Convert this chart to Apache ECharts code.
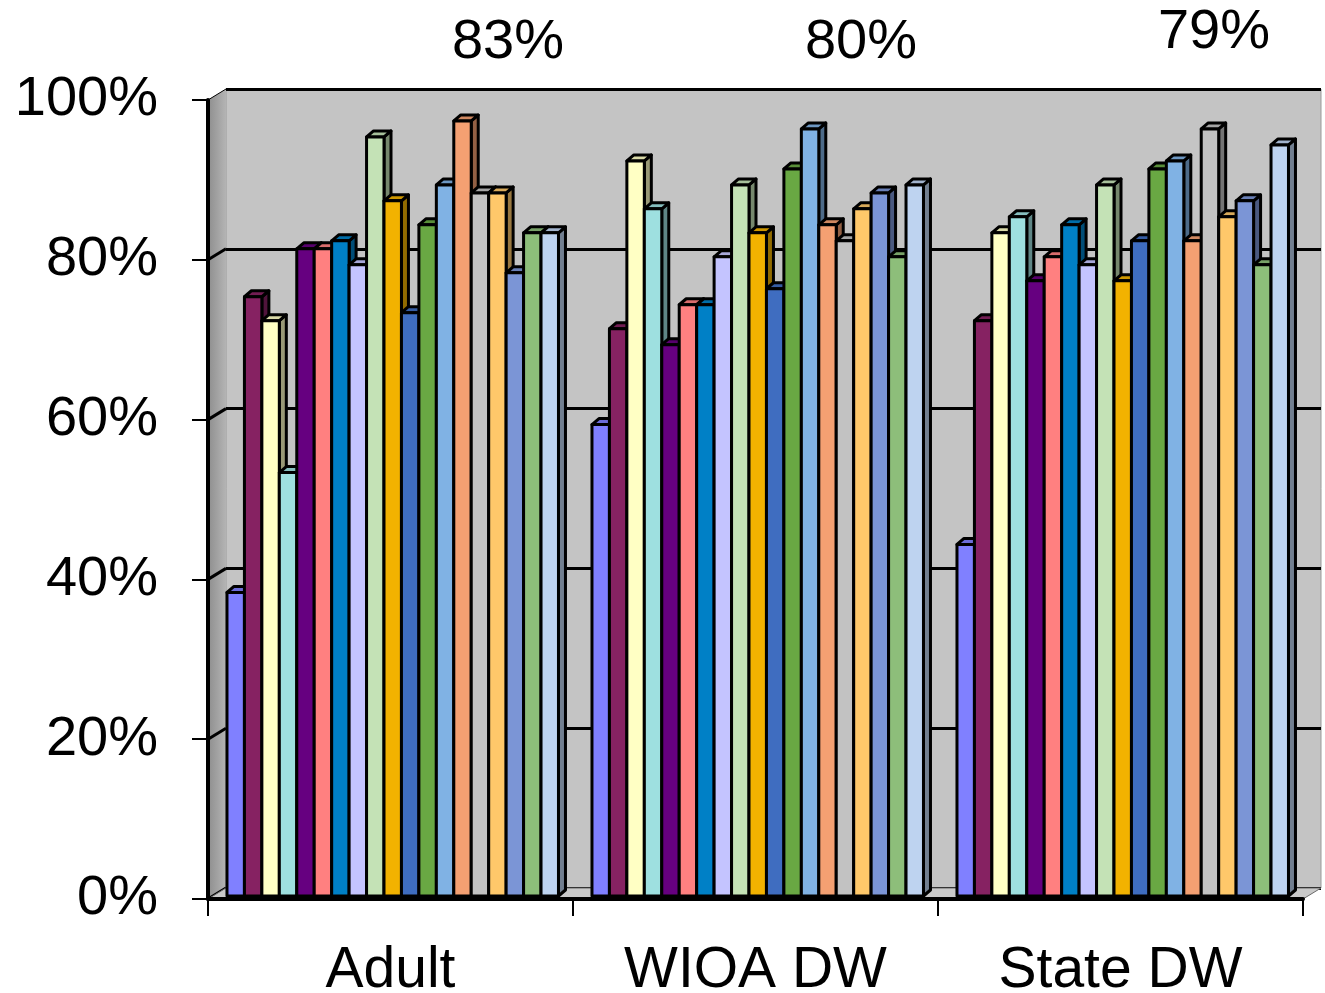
<!DOCTYPE html>
<html>
<head>
<meta charset="utf-8">
<script src="https://cdn.jsdelivr.net/npm/echarts@6/dist/echarts.min.js"></script>
<style>
  html, body { margin: 0; padding: 0; background: #ffffff; }
  #chart { width: 1325px; height: 993px; }
</style>
</head>
<body>
<div id="chart"></div>
<script>
// ---- data ----
const categories = ['Adult', 'WIOA DW', 'State DW'];
const groupTotals = ['83%', '80%', '79%'];
const yTicks = [0, 20, 40, 60, 80, 100];

// one value per coloured column, left to right inside each group
const adultValues   = [38, 75, 72, 53, 81, 81, 82, 79, 95, 87, 73, 84, 89, 97, 88, 88, 78, 83, 83];
const wioaDwValues  = [59, 71, 92, 86, 69, 74, 74, 80, 89, 83, 76, 91, 96, 84, 82, 86, 88, 80, 89];
const stateDwValues = [44, 72, 83, 85, 77, 80, 84, 79, 89, 77, 82, 91, 92, 82, 96, 85, 87, 79, 94];

const barColors = [
  '#8080FF', '#862262', '#FFFFC4', '#9EE0E0', '#660080', '#FF8080', '#0080C6',
  '#C4C4FF', '#C4E2B6', '#F2B200', '#3F6DC0', '#69A843', '#80B2E4', '#F4A072',
  '#C2C2C2', '#FFC86A', '#7B95D6', '#8DBE7A', '#BED3F0'
];

// ---- layout / styling ----
const FONT = "'Liberation Sans', Arial, sans-serif";
const FRONT = { left: 208, right: 22, top: 100, bottom: 94 };   // front axis frame
const WALL_DEPTH = { dx: 18, dy: 11 };                          // back wall offset
const COL_DEPTH = { dx: 7, dy: 6 };                             // depth of each column
const COL_SETBACK = 3;                                          // columns stand behind the front axis
const BAR_FRACTION = 0.0478;                                    // column width / category band
const LEAD_FRACTION = 0.052;                                    // gap before first column / band
const totalLabelPos = [[508, 43], [861, 43], [1214, 33]];

const groupValues = [adultValues, wioaDwValues, stateDwValues];

function shade(hex, f) {
  const n = parseInt(hex.slice(1), 16);
  let r = (n >> 16) & 255, g = (n >> 8) & 255, b = n & 255;
  if (f < 0) { r *= 1 + f; g *= 1 + f; b *= 1 + f; }
  else { r += (255 - r) * f; g += (255 - g) * f; b += (255 - b) * f; }
  return 'rgb(' + [r, g, b].map(v => Math.round(v)).join(',') + ')';
}

function makeRenderer(i) {
  return function (params, api) {
    const cat = api.value(0);
    const val = api.value(1);
    const band = api.size([1, 0])[0];
    const base = api.coord([cat, 0]);
    const top = api.coord([cat, val]);
    const w = band * BAR_FRACTION;
    const x0 = base[0] - band / 2 + band * LEAD_FRACTION + i * w;
    const x1 = x0 + w;
    const yb = base[1] - COL_SETBACK;
    const yt = top[1] - COL_SETBACK;
    const dx = COL_DEPTH.dx, dy = COL_DEPTH.dy;
    const c = barColors[i];
    const stroke = { stroke: '#000', lineWidth: 3, lineJoin: 'round' };
    return {
      type: 'group',
      children: [
        { type: 'polygon',
          shape: { points: [[x1, yt], [x1 + dx, yt - dy], [x1 + dx, yb - dy], [x1, yb]] },
          style: Object.assign({ fill: shade(c, -0.4) }, stroke) },
        { type: 'polygon',
          shape: { points: [[x0, yt], [x0 + dx, yt - dy], [x1 + dx, yt - dy], [x1, yt]] },
          style: Object.assign({ fill: shade(c, -0.15) }, stroke) },
        { type: 'rect',
          shape: { x: x0, y: yt, width: w, height: yb - yt },
          style: Object.assign({ fill: c }, stroke) }
      ]
    };
  };
}

const chart = echarts.init(document.getElementById('chart'), null, { renderer: 'canvas' });
const W = 1325, H = 993;

const series = barColors.map((c, i) => ({
  type: 'custom',
  xAxisIndex: 0,
  yAxisIndex: 0,
  z: 5,
  encode: { x: 0, y: 1 },
  renderItem: makeRenderer(i),
  data: categories.map((cat, k) => [k, groupValues[k][i]])
}));

chart.setOption({
  backgroundColor: '#ffffff',
  animation: false,
  grid: [
    { left: FRONT.left, right: FRONT.right, top: FRONT.top, bottom: FRONT.bottom,
      containLabel: false, outerBoundsMode: 'none' },
    { left: FRONT.left + WALL_DEPTH.dx, right: FRONT.right - WALL_DEPTH.dx,
      top: FRONT.top - WALL_DEPTH.dy, bottom: FRONT.bottom + WALL_DEPTH.dy,
      containLabel: false, outerBoundsMode: 'none',
      show: true, backgroundColor: '#C4C4C4', borderColor: '#9a9a9a', borderWidth: 1 }
  ],
  xAxis: [
    { type: 'category', gridIndex: 0, data: categories, z: 6,
      axisLine: { show: true, lineStyle: { color: '#000', width: 4 } },
      axisTick: { show: true, length: 17, interval: 0, lineStyle: { color: '#000', width: 2 } },
      axisLabel: { show: true, interval: 0, margin: 44, fontSize: 57, color: '#000', fontFamily: FONT },
      splitLine: { show: false } },
    { type: 'category', gridIndex: 1, data: categories, show: false }
  ],
  yAxis: [
    { type: 'value', gridIndex: 0, min: 0, max: 100, interval: 20, z: 6,
      axisLine: { show: true, lineStyle: { color: '#000', width: 4 } },
      axisTick: { show: true, length: 16, lineStyle: { color: '#000', width: 2 } },
      axisLabel: { show: true, margin: 50, fontSize: 56, color: '#000', fontFamily: FONT,
                   padding: [6, 0, 0, 0], formatter: '{value}%' },
      splitLine: { show: false } },
    { type: 'value', gridIndex: 1, min: 0, max: 100, interval: 20,
      axisLine: { show: false }, axisTick: { show: false }, axisLabel: { show: false },
      splitLine: { show: true, lineStyle: { color: '#000', width: 3 } } }
  ],
  series: series
});

// walls, floor and the free-standing group totals
const yFront = v => chart.convertToPixel({ yAxisIndex: 0 }, v);
const yBack = v => chart.convertToPixel({ yAxisIndex: 1 }, v);
const xL = FRONT.left, xLB = FRONT.left + WALL_DEPTH.dx;
const xR = W - FRONT.right, xRB = xR + WALL_DEPTH.dx;

const graphic = [];
graphic.push({
  type: 'polygon', z: 1,
  shape: { points: [[xL, yFront(100)], [xLB, yBack(100)], [xLB, yBack(0)], [xL, yFront(0)]] },
  style: { fill: new echarts.graphic.LinearGradient(0, 0, 1, 0, [
    { offset: 0, color: '#8e8e8e' }, { offset: 1, color: '#b4b4b4' }]) }
});
yTicks.forEach(v => {
  graphic.push({
    type: 'line', z: 2,
    shape: { x1: xL, y1: yFront(v), x2: xLB, y2: yBack(v) },
    style: { stroke: '#000', lineWidth: v === 100 ? 1 : 3 }
  });
});
graphic.push({
  type: 'polygon', z: 2,
  shape: { points: [[xL, yFront(0)], [xR, yFront(0)], [xRB, yBack(0)], [xLB, yBack(0)]] },
  style: { fill: '#c9c9c9', stroke: '#6a6a6a', lineWidth: 1 }
});
groupTotals.forEach((t, k) => {
  graphic.push({
    type: 'text', z: 10,
    x: totalLabelPos[k][0], y: totalLabelPos[k][1],
    style: { text: t, fontSize: 56, fontFamily: FONT, fill: '#000',
             textAlign: 'center', textVerticalAlign: 'middle' }
  });
});
chart.setOption({ graphic: graphic });
</script>
</body>
</html>
